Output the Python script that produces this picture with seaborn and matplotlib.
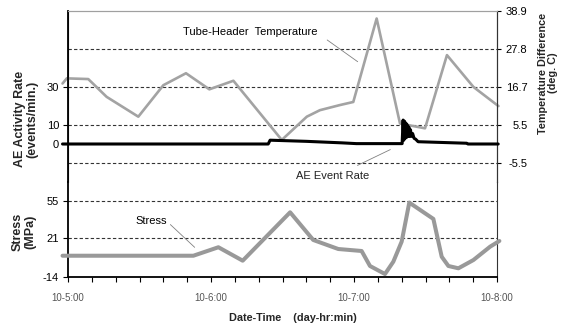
import matplotlib
matplotlib.use("Agg")
import matplotlib.pyplot as plt
from matplotlib.ticker import FixedLocator, MultipleLocator
import pandas as pd
import seaborn as sns

# ---------------- data (minutes after 10-5:00) ----------------
temp_t = [-2.3, -0.5, 8.5, 16.2, 29.5, 40.0, 49.5, 59.3, 69.4, 89.7, 100.2,
          105.7, 114.1, 119.7, 129.5, 139.3, 149.8, 159.0, 170.1, 180.6]
temp_v = [17.7, 19.2, 19.0, 13.8, 8.0, 17.2, 20.7, 16.0, 18.5, 1.2, 8.0,
          9.9, 11.4, 12.3, 36.7, 6.0, 4.6, 26.0, 16.7, 11.1]

ae_t = [-2.3, 84.0, 84.8, 100.0, 115.0, 121.0, 140.2, 140.6, 140.9, 141.2,
        141.5, 141.8, 142.1, 142.4, 142.7, 143.0, 143.3, 143.7, 144.1, 144.6,
        145.2, 145.9, 146.9, 167.3, 167.8, 180.5]
ae_v = [0, 0, 2.0, 1.4, 0.6, 0.2, 0.2, 12.6, 2.0, 12.0,
        3.0, 11.0, 3.5, 10.0, 4.0, 9.0, 4.0, 7.5, 4.0, 5.5,
        3.0, 2.5, 1.2, 0.4, 0, 0]

stress_t = [-2.3, 52.6, 63.1, 73.3, 93.2, 102.9, 113.4, 123.2, 126.7, 133.0,
            136.5, 140.0, 143.2, 153.3, 156.8, 159.6, 163.8, 170.1, 177.1, 181.0]
stress_v = [5.3, 5.3, 13.0, 0.8, 44.7, 19.6, 11.4, 9.6, -4.0, -11.3,
            -0.1, 18.1, 53.5, 38.7, 4.4, -4.0, -6.1, 1.4, 13.5, 18.7]

ae_ticks = [0, 10, 30]
temp_ticks = [-5.5, 5.5, 16.7, 27.8, 38.9]
stress_ticks = [-14, 21, 55]
x_major = [0, 60, 120, 180]
x_labels = ["10-5:00", "10-6:00", "10-7:00", "10-8:00"]

df_temp = pd.DataFrame({"t": temp_t, "v": temp_v})
df_ae = pd.DataFrame({"t": ae_t, "v": ae_v})
df_stress = pd.DataFrame({"t": stress_t, "v": stress_v})

# ---------------- style ----------------
sns.set_style("white")
plt.rcParams['font.family'] = ['Liberation Sans', 'DejaVu Sans']

W, H = 563, 324
fig = plt.figure(figsize=(W / 100, H / 100), dpi=100)


def fy(y):
    return 1 - y / H


L, R = 68 / W, 497 / W
ax = fig.add_axes([L, fy(182), R - L, fy(11) - fy(182)])
axb = fig.add_axes([L, fy(277), R - L, fy(182) - fy(277)], sharex=ax)
tw = ax.twinx()
ax.set_zorder(tw.get_zorder() + 1)
ax.patch.set_visible(False)

ax.set_xlim(0, 180)
ax.set_ylim(-20, 70)
tw.set_ylim(-11.1, 38.9)
axb.set_ylim(-14, 72.2)

grid_kw = dict(ls=(0, (3, 2)), color="#333333", lw=0.8, zorder=0)
for v in temp_ticks[:-1]:
    tw.axhline(v, **grid_kw)
for v in stress_ticks[1:]:
    axb.axhline(v, **grid_kw)

# series
sns.lineplot(data=df_temp, x="t", y="v", ax=tw, color="#a3a3a3", lw=1.9,
             sort=False, estimator=None, clip_on=False, zorder=3)
sns.lineplot(data=df_ae, x="t", y="v", ax=ax, color="black", lw=2.2,
             sort=False, estimator=None, clip_on=False, zorder=4)
sns.lineplot(data=df_stress, x="t", y="v", ax=axb, color="#999999", lw=2.9,
             sort=False, estimator=None, clip_on=False, zorder=3)

# spines
for a in (ax, tw, axb):
    for s in a.spines.values():
        s.set_linewidth(0.8)
        s.set_color("#333333")
for a in (ax, tw):
    a.spines["bottom"].set_visible(False)
    a.spines["top"].set_color("#a0a0a0")
axb.spines["top"].set_visible(False)
ax.spines["left"].set_color("black")
ax.spines["left"].set_linewidth(1.3)
axb.spines["left"].set_color("black")
axb.spines["left"].set_linewidth(1.3)
axb.spines["bottom"].set_color("black")
axb.spines["bottom"].set_linewidth(1.3)

# ticks
ax.set_yticks(ae_ticks)
ax.set_yticklabels([str(v) for v in ae_ticks])
ax.tick_params(axis="y", left=True, right=False, direction="out", length=3.5,
               width=0.8, labelsize=8, pad=3, colors="black")
ax.tick_params(axis="x", bottom=False, labelbottom=False)

tw.set_yticks(temp_ticks)
tw.set_yticklabels([f"{v}" for v in temp_ticks])
tw.tick_params(axis="y", right=True, left=False, direction="out", length=3,
               width=0.8, labelsize=8, pad=19, colors="black")
for lab in tw.get_yticklabels():
    lab.set_horizontalalignment("right")

axb.set_yticks(stress_ticks)
axb.set_yticklabels([str(v) for v in stress_ticks])
axb.tick_params(axis="y", left=True, direction="out", length=3.5, width=0.8,
                labelsize=8, pad=3, colors="black")
axb.xaxis.set_major_locator(FixedLocator(x_major))
axb.set_xticklabels(x_labels)
axb.xaxis.set_minor_locator(MultipleLocator(10))
axb.tick_params(axis="x", which="both", bottom=True, direction="out",
                length=3.5, width=0.8, labelsize=7, pad=8,
                labelcolor="#555555", color="black")

for a in (ax, tw, axb):
    a.set_xlabel("")
    a.set_ylabel("")

# axis titles
fig.text(26 / W, fy(119), "AE Activity Rate\n(events/min.)", rotation=90,
         ha="center", va="center", fontsize=9, fontweight="bold",
         linespacing=1.0)
fig.text(24 / W, fy(232), "Stress\n(MPa)", rotation=90, ha="center",
         va="center", fontsize=9, fontweight="bold", linespacing=1.0)
fig.text(548 / W, fy(73), "Temperature Difference\n(deg. C)", rotation=90,
         ha="center", va="center", fontsize=7.8, fontweight="bold",
         linespacing=1.0)
fig.text(293 / W, fy(318), "Date-Time    (day-hr:min)", ha="center",
         va="center", fontsize=7.8, fontweight="bold")

# annotations
lead = dict(arrowstyle="-", color="#808080", lw=0.6)
tw.text(76.4, 32.7, "Tube-Header  Temperature", ha="center", va="center",
        fontsize=8, color="black")
tw.annotate("", xy=(122.5, 23.6), xytext=(107.8, 30.9), arrowprops=lead)
ax.text(111.2, -16.8, "AE Event Rate", ha="center", va="center", fontsize=8,
        color="#222222")
ax.annotate("", xy=(136.3, -2.3), xytext=(120.4, -11.9), arrowprops=lead)
axb.text(34.8, 37.1, "Stress", ha="center", va="center", fontsize=8,
         color="black")
axb.annotate("", xy=(54.0, 11.2), xytext=(42.1, 35.3), arrowprops=lead)

fig.savefig("out.png", dpi=100)
